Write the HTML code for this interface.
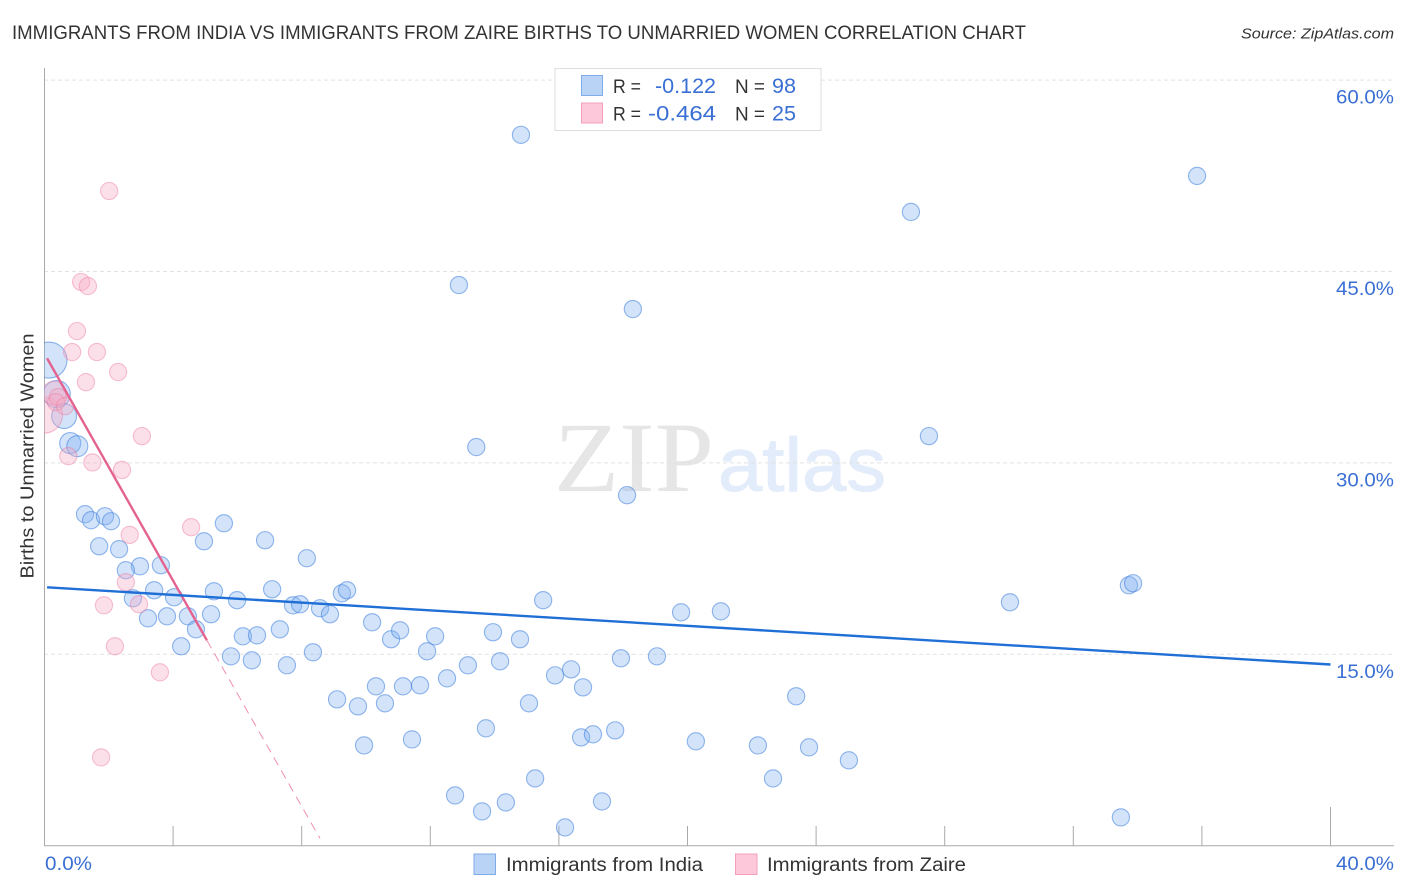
<!DOCTYPE html>
<html lang="en">
<head>
<meta charset="utf-8">
<title>Immigrants from India vs Immigrants from Zaire Births to Unmarried Women Correlation Chart</title>
<style>
  html, body { margin: 0; padding: 0; background: #fff; }
  svg { display: block; font-family: "Liberation Sans", "DejaVu Sans", sans-serif; }
</style>
</head>
<body>
<svg id="chart" xmlns="http://www.w3.org/2000/svg" width="1406" height="892" viewBox="0 0 1406 892">
  <rect x="0" y="0" width="1406" height="892" fill="#ffffff"/>
  <text x="12" y="39" font-size="19.5" fill="#333333" textLength="1014" lengthAdjust="spacingAndGlyphs">IMMIGRANTS FROM INDIA VS IMMIGRANTS FROM ZAIRE BIRTHS TO UNMARRIED WOMEN CORRELATION CHART</text>
  <text x="1241" y="38.5" font-size="15" font-style="italic" fill="#333333" textLength="153" lengthAdjust="spacingAndGlyphs">Source: ZipAtlas.com</text>
  <text x="554" y="491" font-size="100" font-family="'Liberation Serif', serif" fill="#e6e6e6" textLength="160" lengthAdjust="spacingAndGlyphs">ZIP</text>
  <text x="718" y="491" font-size="76" fill="#e3ecfa" stroke="#e3ecfa" stroke-width="1" textLength="168" lengthAdjust="spacingAndGlyphs">atlas</text>
  <g id="grid"></g>
  <g id="axes"></g>
  <defs>
    <clipPath id="plot-clip"><rect x="44" y="60" width="1352" height="786"/></clipPath>
  </defs>
  <g id="marks" clip-path="url(#plot-clip)"></g>
  <g id="trends"></g>
  <text transform="translate(33.5,456) rotate(-90)" text-anchor="middle" font-size="18.5" fill="#333333" textLength="245" lengthAdjust="spacingAndGlyphs">Births to Unmarried Women</text>
  <g>
    <rect x="555" y="68.5" width="266" height="62" fill="#ffffff" stroke="#dddddd" stroke-width="1"/>
    <rect x="581.5" y="75.5" width="21" height="20" fill="#b8d3f5" stroke="#7fabe8" stroke-width="1"/>
    <rect x="581.5" y="103" width="21" height="20" fill="#fcc8da" stroke="#f3a0bc" stroke-width="1"/>
    <text x="613" y="93" font-size="19" fill="#333333" textLength="28" lengthAdjust="spacingAndGlyphs">R =</text>
    <text x="655" y="93" font-size="21" fill="#3a6fd4" textLength="61" lengthAdjust="spacingAndGlyphs">-0.122</text>
    <text x="735" y="93" font-size="19" fill="#333333" textLength="30" lengthAdjust="spacingAndGlyphs">N =</text>
    <text x="772" y="93" font-size="21" fill="#3a6fd4" textLength="24" lengthAdjust="spacingAndGlyphs">98</text>
    <text x="613" y="120.5" font-size="19" fill="#333333" textLength="28" lengthAdjust="spacingAndGlyphs">R =</text>
    <text x="648" y="120.5" font-size="21" fill="#3a6fd4" textLength="68" lengthAdjust="spacingAndGlyphs">-0.464</text>
    <text x="735" y="120.5" font-size="19" fill="#333333" textLength="30" lengthAdjust="spacingAndGlyphs">N =</text>
    <text x="772" y="120.5" font-size="21" fill="#3a6fd4" textLength="24" lengthAdjust="spacingAndGlyphs">25</text>
  </g>
  <g>
    <rect x="474" y="854" width="21.5" height="20.5" fill="#b8d3f5" stroke="#7fabe8" stroke-width="1"/>
    <text x="506" y="871" font-size="19" fill="#333333" textLength="197" lengthAdjust="spacingAndGlyphs">Immigrants from India</text>
    <rect x="735.5" y="854" width="21.5" height="20.5" fill="#fcc8da" stroke="#f3a0bc" stroke-width="1"/>
    <text x="767" y="871" font-size="19" fill="#333333" textLength="199" lengthAdjust="spacingAndGlyphs">Immigrants from Zaire</text>
  </g>
</svg>
<script>
// ---- chart data (percent units) ----
const yTickValues = [15, 30, 45, 60];
const yTickLabels = ["15.0%", "30.0%", "45.0%", "60.0%"];
const xTickValues = [0, 4, 8, 12, 16, 20, 24, 28, 32, 36, 40];
const xEdgeLabels = ["0.0%", "40.0%"];

const indiaX = [0.14,0.38,0.61,0.80,1.02,
  14.82,35.85,26.95,12.89,18.30,27.51,13.43,18.12,1.26,1.45,1.88,2.07,5.58,1.70,2.32,
  4.96,6.86,8.16,2.97,2.53,3.62,3.41,2.75,4.03,5.27,5.99,7.08,7.73,7.95,8.57,8.88,
  9.25,9.41,3.22,3.81,4.46,5.18,4.71,4.25,7.32,6.17,6.61,5.80,6.45,7.54,8.35,10.19,
  10.78,11.06,12.15,11.90,13.95,14.79,13.17,14.17,12.52,10.31,11.15,11.68,9.10,9.75,10.59,9.94,
  11.43,13.73,15.07,15.88,16.38,16.75,17.93,19.05,15.51,19.80,21.04,16.69,17.06,17.75,20.26,22.19,
  23.78,23.38,25.02,22.66,15.26,12.77,13.61,14.35,17.34,16.19,33.48,30.03,33.73,33.86];
const indiaY = [38.06,35.39,33.67,31.55,31.31,
  55.71,52.49,49.67,43.94,42.06,32.10,31.24,27.47,25.98,25.51,25.82,25.43,25.27,23.47,23.24,
  23.86,23.94,22.53,21.90,21.59,21.98,20.02,19.39,19.47,19.94,19.24,20.10,18.84,18.92,18.61,18.14,
  19.78,20.02,17.82,17.98,17.98,18.14,16.96,15.63,16.96,16.41,16.49,14.84,14.53,14.14,15.16,17.51,
  16.18,16.88,16.41,15.24,16.73,16.18,14.14,14.45,13.12,12.49,12.49,12.57,11.47,10.92,11.16,7.86,
  8.33,9.20,11.16,13.35,13.82,12.41,14.69,14.84,19.24,18.29,18.37,8.49,8.73,9.04,8.18,7.86,
  7.71,11.71,6.69,5.27,5.27,3.94,2.69,3.39,3.47,1.43,2.22,19.08,20.41,20.57];
const indiaWeight = [4.4,2.5,2.1,1.5,1.5,
  1,1,1,1,1,1,1,1,1,1,1,1,1,1,1,1,1,1,1,1,1,1,1,1,1,1,1,1,1,1,1,
  1,1,1,1,1,1,1,1,1,1,1,1,1,1,1,1,1,1,1,1,1,1,1,1,1,1,1,1,1,1,1,1,
  1,1,1,1,1,1,1,1,1,1,1,1,1,1,1,1,1,1,1,1,1,1,1,1,1,1,1,1,1,1];

const zaireX = [0.00,0.30,2.01,1.14,1.35,1.01,0.86,1.63,1.29,2.29,3.03,0.42,0.36,0.64,
  0.74,1.49,2.41,4.56,2.65,2.53,2.94,1.85,2.19,3.59,1.76];
const zaireY = [33.75,35.47,51.31,44.18,43.86,40.33,38.69,38.69,36.33,37.12,32.10,35.16,34.76,34.45,
  30.53,30.04,29.45,24.96,24.36,20.65,18.92,18.84,15.63,13.59,6.92];
const zaireWeight = [4.4,1.9,1,1,1,1,1,1,1,1,1,1,1,1,1,1,1,1,1,1,1,1,1,1,1];

const indiaTrendX = [0.08, 40];
const indiaTrendY = [20.25, 14.2];
const zaireTrendX = [0.08, 5.05];
const zaireTrendY = [38.2, 16.1];
const zaireDashX = [5.05, 8.57];
const zaireDashY = [16.1, 0.57];

// ---- axis functions ----
function xScale(v) { return 44.5 + v * 32.15; }
function yScale(v) { return 845.7 - v * 12.76; }
function rScale(w) { return 8.6 * Math.sqrt(w); }

const NS = 'http://www.w3.org/2000/svg';
function make(tag, parent, attrs) {
  const el = document.createElementNS(NS, tag);
  for (const k in attrs) el.setAttribute(k, attrs[k]);
  parent.appendChild(el);
  return el;
}

// gridlines and y labels
const gridG = document.getElementById('grid');
yTickValues.forEach(function (v, i) {
  const line = make('line', gridG, { x1: 44, x2: 1394, y1: yScale(v), y2: yScale(v), stroke: '#e2e2e2', 'stroke-width': 1, 'stroke-dasharray': '4 3' });
  
  
  const t = make('text', gridG, { x: 1336, y: yScale(v) + 23.5, 'font-size': 19.5, fill: '#3a6fd4', textLength: 58, lengthAdjust: 'spacingAndGlyphs' });
  
  
  t.textContent = yTickLabels[i];
});

// axes and ticks
const axesG = document.getElementById('axes');
const yAxis = make('line', axesG, { x1: 44.5, x2: 44.5, y1: 68, y2: 846, stroke: '#aaaaaa', 'stroke-width': 1 });


const xAxis = make('line', axesG, { x1: 44, x2: 1394, y1: 845.7, y2: 845.7, stroke: '#aaaaaa', 'stroke-width': 1 });


xTickValues.forEach(function (v, i) {
  if (i === 0) return;
  const isLast = i === xTickValues.length - 1;
  const tick = make('line', axesG, { x1: xScale(v), x2: xScale(v), y1: isLast ? 807 : 826, y2: 846, stroke: '#aaaaaa', 'stroke-width': 1 });
  
  
});
const xLabelLeft = make('text', axesG, { x: 45, y: 870, 'font-size': 19.5, fill: '#3a6fd4', textLength: 47, lengthAdjust: 'spacingAndGlyphs' });


xLabelLeft.textContent = xEdgeLabels[0];
const xLabelRight = make('text', axesG, { x: 1336, y: 870, 'font-size': 19.5, fill: '#3a6fd4', textLength: 58, lengthAdjust: 'spacingAndGlyphs' });


xLabelRight.textContent = xEdgeLabels[1];

// points
const marksG = document.getElementById('marks');
indiaX.forEach(function (x, i) {
  const c = make('circle', marksG, { cx: xScale(x), cy: yScale(indiaY[i]), r: rScale(indiaWeight[i]), fill: 'rgba(130,178,240,0.36)', stroke: 'rgba(60,125,220,0.55)', 'stroke-width': 1.1 });
  
  
});
zaireX.forEach(function (x, i) {
  const c = make('circle', marksG, { cx: xScale(x), cy: yScale(zaireY[i]), r: rScale(zaireWeight[i]), fill: 'rgba(248,170,195,0.36)', stroke: 'rgba(235,120,160,0.45)', 'stroke-width': 1.1 });
  
  
});

// trend lines
const trendsG = document.getElementById('trends');
const zaireDash = make('line', trendsG, { x1: xScale(zaireDashX[0]), y1: yScale(zaireDashY[0]), x2: xScale(zaireDashX[1]), y2: yScale(zaireDashY[1]), stroke: '#ee8fae', 'stroke-width': 1, 'stroke-dasharray': '9 6' });


const zaireLine = make('line', trendsG, { x1: xScale(zaireTrendX[0]), y1: yScale(zaireTrendY[0]), x2: xScale(zaireTrendX[1]), y2: yScale(zaireTrendY[1]), stroke: '#e4628f', 'stroke-width': 2.4 });


const indiaLine = make('line', trendsG, { x1: xScale(indiaTrendX[0]), y1: yScale(indiaTrendY[0]), x2: xScale(indiaTrendX[1]), y2: yScale(indiaTrendY[1]), stroke: '#1f6fd6', 'stroke-width': 2.4 });


</script>
</body>
</html>
